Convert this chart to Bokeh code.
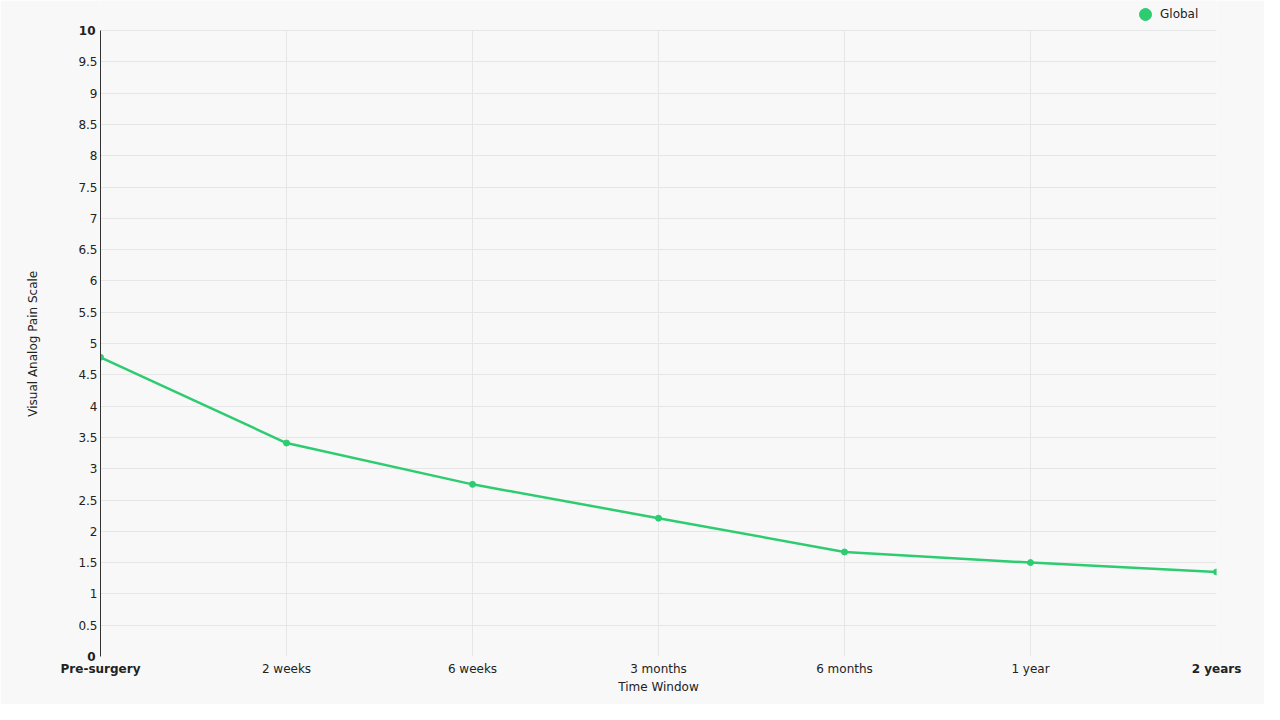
from bokeh.plotting import figure
from bokeh.models import Range1d, FixedTicker, Legend, LegendItem, ColumnDataSource, LinearAxis
from bokeh.embed import file_html
from bokeh.resources import INLINE

categories = ["Pre-surgery", "2 weeks", "6 weeks", "3 months", "6 months", "1 year", "2 years"]
global_vas = [4.78, 3.41, 2.75, 2.21, 1.67, 1.50, 1.35]
y_ticks = [0, 0.5, 1, 1.5, 2, 2.5, 3, 3.5, 4, 4.5, 5, 5.5, 6, 6.5, 7, 7.5, 8, 8.5, 9, 9.5, 10]
y_tick_labels = ["0", "0.5", "1", "1.5", "2", "2.5", "3", "3.5", "4", "4.5", "5", "5.5", "6", "6.5",
                 "7", "7.5", "8", "8.5", "9", "9.5", "10"]
series_name = "Global"
x_title = "Time Window"
y_title = "Visual Analog Pain Scale"

BG = "#f8f8f8"
GRID = "#e6e6e6"
TXT = "#222222"
GREEN = "#2ecc71"
FONT = "DejaVu Sans"

W, H = 1264, 704
LEFT, RIGHT, BOTTOM, TOP_PAD = 100, 48, 48, 30
frame_h = H - BOTTOM
y_lo, y_hi = y_ticks[0], y_ticks[-1]
# extend the range above the top tick so the legend row sits inside the frame
y_end = y_hi + TOP_PAD * (y_hi - y_lo) / (frame_h - TOP_PAD)

x_idx = list(range(len(categories)))
src = ColumnDataSource(dict(x=x_idx, y=global_vas))

p = figure(width=W, height=H, output_backend="svg", toolbar_location=None,
           x_range=Range1d(0, len(categories) - 1), y_range=Range1d(y_lo, y_end),
           x_axis_location=None, y_axis_location=None,
           min_border_left=LEFT, min_border_right=RIGHT, min_border_top=0, min_border_bottom=BOTTOM,
           background_fill_color=BG, border_fill_color=BG)
p.outline_line_color = None
p.title.visible = False

# vertical grid lines limited to the 0..10 scale
inner = x_idx[1:-1]
p.segment(x0=inner, y0=[y_lo] * len(inner), x1=inner, y1=[y_hi] * len(inner),
          line_color=GRID, line_width=1)

line = p.line("x", "y", source=src, line_color=GREEN, line_width=2.5)
pts = p.scatter("x", "y", source=src, size=6, fill_color=GREEN, line_color=GREEN)


def style_axis(ax):
    ax.major_tick_line_color = None
    ax.minor_tick_line_color = None
    ax.major_tick_out = 0
    ax.major_tick_in = 0
    ax.major_label_text_font = FONT
    ax.major_label_text_font_size = "12px"
    ax.major_label_text_color = TXT
    ax.axis_label_text_font = FONT
    ax.axis_label_text_font_size = "12px"
    ax.axis_label_text_font_style = "normal"
    ax.axis_label_text_color = TXT


# X axis: normal labels
ov = {i: c for i, c in enumerate(categories)}
ov[0] = ""
ov[len(categories) - 1] = ""
xa = LinearAxis(ticker=FixedTicker(ticks=x_idx), major_label_overrides=ov)
style_axis(xa)
xa.axis_line_color = None
xa.major_label_standoff = 5
p.add_layout(xa, "below")

# X axis: bold end labels + title
ends = [0, len(categories) - 1]
xb = LinearAxis(ticker=FixedTicker(ticks=ends),
                major_label_overrides={i: categories[i] for i in ends})
style_axis(xb)
xb.axis_line_color = None
xb.major_label_text_font_style = "bold"
xb.major_label_standoff = -17
xb.axis_label = x_title
xb.axis_label_standoff = 1
p.add_layout(xb, "below")

# Y axis: normal labels
yov = {t: l for t, l in zip(y_ticks, y_tick_labels)}
yov[y_lo] = ""
yov[y_hi] = ""
ya = LinearAxis(ticker=FixedTicker(ticks=y_ticks), major_label_overrides=yov, bounds=(y_lo, y_hi))
style_axis(ya)
ya.axis_line_color = "#333333"
ya.axis_line_width = 1
ya.major_label_standoff = 3
p.add_layout(ya, "left")

# Y axis: bold end labels + title (non-breaking padding re-centres the title on the 0..10 span)
yb = LinearAxis(ticker=FixedTicker(ticks=[y_lo, y_hi]), bounds=(y_lo, y_hi),
                major_label_overrides={y_lo: y_tick_labels[0], y_hi: y_tick_labels[-1]})
style_axis(yb)
yb.axis_line_color = None
yb.major_label_text_font_style = "bold"
yb.major_label_standoff = -20
yb.axis_label = y_title + "\u00a0" * 8
yb.axis_label_standoff = 36
p.add_layout(yb, "left")

# Grids
p.xgrid.visible = False
p.ygrid.ticker = FixedTicker(ticks=y_ticks)
p.ygrid.grid_line_color = GRID

legend = Legend(items=[LegendItem(label=series_name, renderers=[pts])],
                location=(1030, frame_h - 29), orientation="horizontal",
                glyph_width=30, glyph_height=30, label_standoff=0,
                padding=0, margin=0, spacing=0,
                border_line_color=None, background_fill_alpha=0,
                label_text_font=FONT, label_text_font_size="12px", label_text_color=TXT)
p.add_layout(legend, "center")

html = file_html(p, INLINE)
html = html.replace("<body>", '<body style="background:%s">' % BG, 1)
open("out.html", "w").write(html)
